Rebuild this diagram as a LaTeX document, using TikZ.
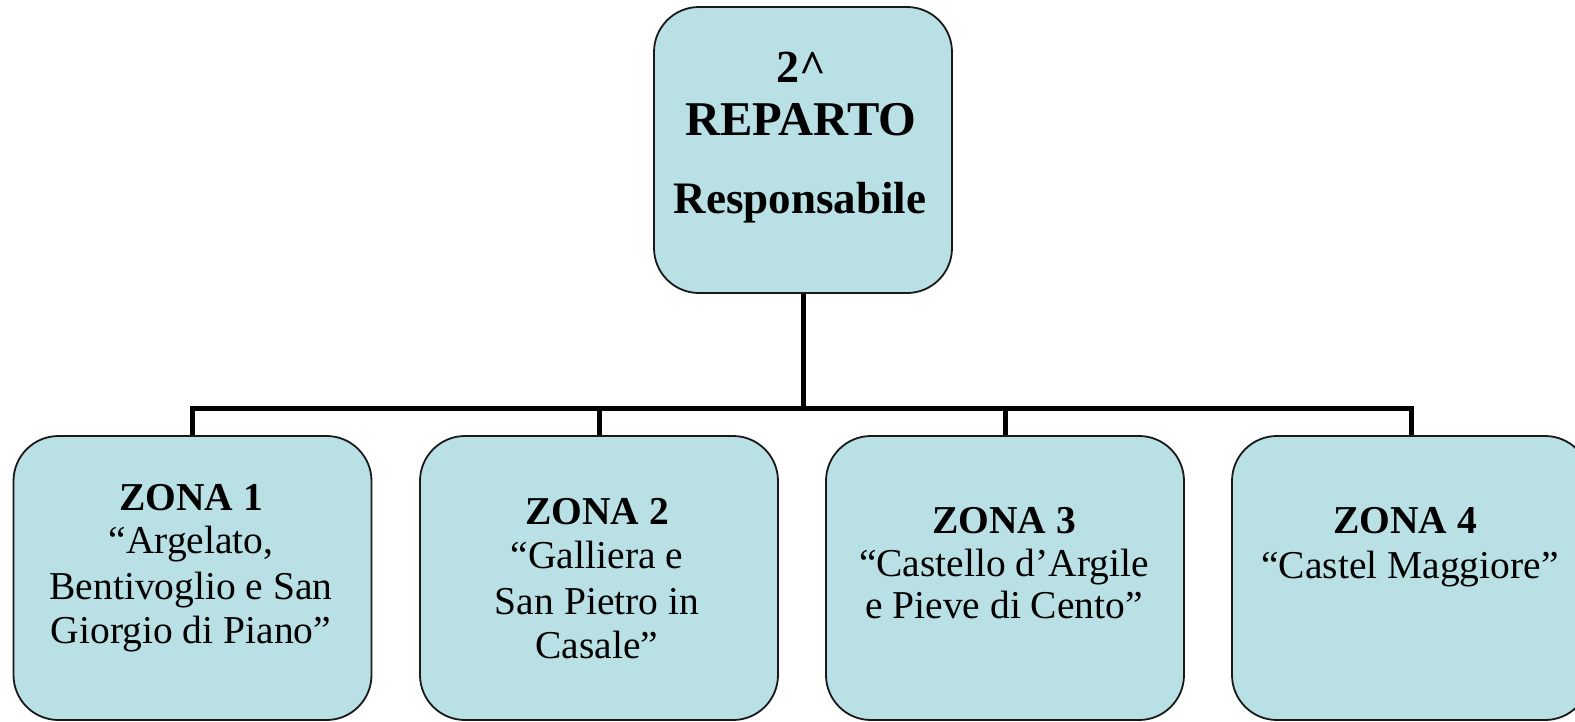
\documentclass[tikz,border=0pt]{standalone}
\usepackage{fontspec}
\setmainfont{Liberation Serif}
\begin{document}
\begin{tikzpicture}[x=1pt,y=-1pt,
  box/.style={draw=black!90,line width=1.8pt,fill=boxfill,rounded corners=45pt,inner sep=0pt},
  conn/.style={line width=5pt,draw=black},
  zt/.style={anchor=base,inner sep=0pt,font=\fontsize{39.5}{45}\selectfont\bfseries},
  rt/.style={anchor=base,inner sep=0pt,font=\fontsize{39.5}{45}\selectfont}]
\definecolor{boxfill}{RGB}{185,224,228}
\useasboundingbox (0,0) rectangle (1575,721);
\clip (0,0) rectangle (1575,721);
% boxes
\node[box,minimum width=298pt,minimum height=286pt] (top) at (803,150) {};
\node[box,minimum width=358pt,minimum height=284pt] (b1) at (192.5,578) {};
\node[box,minimum width=358pt,minimum height=284pt] (b2) at (599,578) {};
\node[box,minimum width=358pt,minimum height=284pt] (b3) at (1005,578) {};
\node[box,minimum width=358pt,minimum height=284pt] (b4) at (1411,578) {};
% connectors
\coordinate (bus) at (0,408);
\draw[conn] (top.south) -- (top.south |- bus);
\draw[conn] (b1.north) -- (b1.north |- bus) -- (b4.north |- bus) -- (b4.north);
\draw[conn] (b2.north) -- (b2.north |- bus);
\draw[conn] (b3.north) -- (b3.north |- bus);
% top text
\node[anchor=base,inner sep=0pt,font=\fontsize{46}{50}\selectfont\bfseries] (t0a) at (801,82) {2\textasciicircum};
\node[anchor=base,inner sep=0pt,font=\fontsize{48.5}{50}\selectfont\bfseries] (t0b) at (801,135) {REPARTO};
\node[anchor=base,inner sep=0pt,font=\fontsize{45}{50}\selectfont\bfseries] (t0c) at (800,213) {Responsabile};
% zone 1
\node[zt] (t1a) at (191,510) {ZONA 1};
\node[rt] (t1b) at (191,553) {“Argelato,};
\node[rt] (t1c) at (191,599) {Bentivoglio e San};
\node[rt] (t1d) at (191,643) {Giorgio di Piano”};
% zone 2
\node[zt] (t2a) at (597,524) {ZONA 2};
\node[rt] (t2b) at (597,568) {“Galliera e};
\node[rt] (t2c) at (597,614) {San Pietro in};
\node[rt] (t2d) at (597,658) {Casale”};
% zone 3
\node[zt] (t3a) at (1004,533) {ZONA 3};
\node[rt] (t3b) at (1004,576) {“Castello d’Argile};
\node[rt] (t3c) at (1004,618) {e Pieve di Cento”};
% zone 4
\node[zt] (t4a) at (1405,533) {ZONA 4};
\node[rt] (t4b) at (1410,578) {“Castel Maggiore”};
\end{tikzpicture}
\end{document}
